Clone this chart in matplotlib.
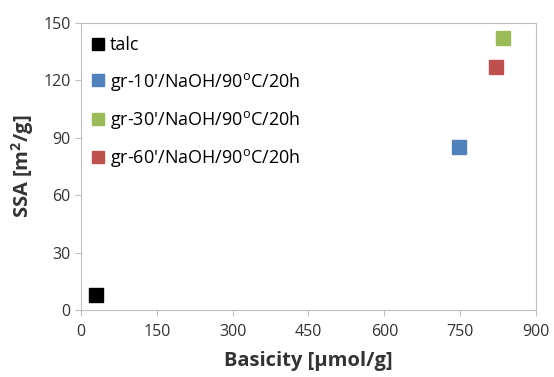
import matplotlib
matplotlib.use("Agg")
import matplotlib.pyplot as plt

labels = ["talc", "gr-10'/NaOH/90$^\\mathregular{o}$C/20h", "gr-30'/NaOH/90$^\\mathregular{o}$C/20h", "gr-60'/NaOH/90$^\\mathregular{o}$C/20h"]
basicity = [30, 747, 835, 821]
ssa = [8, 85, 142, 127]
colors = ["#000000", "#4F81BD", "#9BBB59", "#C0504D"]
xticks = [0, 150, 300, 450, 600, 750, 900]
yticks = [0, 30, 60, 90, 120, 150]

plt.rcParams['font.family'] = ['Open Sans', 'DejaVu Sans']
fig = plt.figure(figsize=(5.54, 3.77), dpi=100)
ax = fig.add_axes([0.1462, 0.1777, 0.8213, 0.762])
for x, y, c, l in zip(basicity, ssa, colors, labels):
    ax.plot([x], [y], marker='s', linestyle='none', color=c, markersize=10, label=l)
ax.set_xlim(0, 900)
ax.set_ylim(0, 150)
ax.set_xticks(xticks)
ax.set_yticks(yticks)
for s in ax.spines.values():
    s.set_color('#BFBFBF')
ax.tick_params(colors='#BFBFBF', labelcolor='#333333', labelsize=11.5, length=4)
ax.tick_params(axis='x', pad=6)
ax.set_xlabel("Basicity [μmol/g]", fontsize=14.5, fontweight='bold', color='#333333', labelpad=8)
ax.set_ylabel("SSA [m$^\\mathregular{2}$/g]", fontsize=14.5, fontweight='bold', color='#333333', labelpad=5)
leg = ax.legend(loc='upper left', frameon=False, fontsize=13, labelspacing=0.9, markerscale=0.8,
                handlelength=0.7, handletextpad=0.3, borderaxespad=0.2, bbox_to_anchor=(0.0, 0.99))
fig.savefig("out.png", dpi=100)
